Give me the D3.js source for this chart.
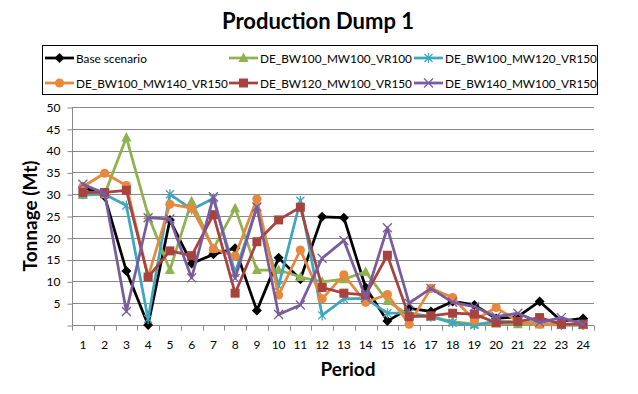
<!DOCTYPE html>
<html>
<head>
<meta charset="utf-8">
<script src="https://cdn.jsdelivr.net/npm/d3@7"></script>
<style>
  body { margin: 0; background: #fff; }
  text { font-family: Lato, "Open Sans", sans-serif; fill: #000; }
</style>
</head>
<body>
<div class="chart"></div>
<script>
// data (Mt per period)
var periods = ["1","2","3","4","5","6","7","8","9","10","11","12","13","14","15","16","17","18","19","20","21","22","23","24"];
var yTicks = [0, 5, 10, 15, 20, 25, 30, 35, 40, 45, 50];

var baseScenario = [31.7, 29.5, 12.4, 0, 24.1, 14.1, 16.2, 17.6, 3.3, 15.4, 10.5, 24.8, 24.6, 8.6, 0.9, 3.8, 3.1, 5.4, 4.6, 1.5, 1.9, 5.4, 0.9, 1.5];
var bw100mw100vr100 = [29.8, 30.0, 43.0, 25.2, 12.6, 28.4, 17.5, 26.8, 12.6, 12.6, 11.0, 9.9, 10.5, 12.2, 5.5, 2.2, 1.9, 0.8, 0.2, 0.4, 0.2, 0.1, 0, 0];
var bw100mw120vr150 = [30.0, 30.0, 27.4, 1.4, 30.0, 26.5, 29.0, 12.0, 27.0, 9.0, 28.5, 2.2, 6.0, 6.1, 2.7, 2.7, 1.9, 0.5, 0, 0.9, 0.6, 0.5, 0, 0];
var bw100mw140vr150 = [31.7, 34.8, 32.0, 11.1, 27.7, 26.8, 17.5, 15.8, 28.9, 6.9, 17.2, 6.0, 11.5, 5.2, 7.0, 0.2, 8.4, 6.3, 1.1, 4.0, 0.8, 0.2, 0.2, 0];
var bw120mw100vr150 = [30.4, 30.4, 30.9, 11.0, 17.0, 15.9, 25.3, 7.3, 19.1, 24.1, 27.0, 8.6, 7.3, 6.9, 16.0, 1.9, 2.1, 2.7, 2.5, 0.5, 0.8, 1.7, 0.2, 0.2];
var bw140mw100vr150 = [32.3, 30.2, 3.1, 24.6, 24.3, 10.8, 29.4, 10.7, 27.1, 2.4, 4.6, 15.3, 19.4, 6.3, 22.3, 5.0, 8.4, 5.2, 4.2, 1.9, 2.7, 0.6, 1.7, 0.2];

var seriesNames = ["Base scenario", "DE_BW100_MW100_VR100", "DE_BW100_MW120_VR150",
                   "DE_BW100_MW140_VR150", "DE_BW120_MW100_VR150", "DE_BW140_MW100_VR150"];
var seriesValues = [baseScenario, bw100mw100vr100, bw100mw120vr150, bw100mw140vr150, bw120mw100vr150, bw140mw100vr150];
var seriesColors = ["#000000", "#8FB24F", "#3FA6BE", "#E8883D", "#A8423F", "#7A5C9E"];
var seriesMarkers = ["diamond", "triangle", "star", "circle", "square", "x"];

var W = 638, H = 394;
var svg = d3.select('.chart')
  .append('svg')
  .attr('width', W)
  .attr('height', H);

var x = d3.scaleBand().domain(periods).range([72, 594]).padding(0);
var y = d3.scaleLinear().domain([0, 50]).range([325, 107]);

// marker paths, Excel style
function markerPath(type) {
  switch (type) {
    case "diamond": return "M0,-5L5,0L0,5L-5,0Z";
    case "triangle": return "M0,-5.5L5,4L-5,4Z";
    case "star": return "M-4,-4L4,4M-4,4L4,-4M0,-5L0,5";
    case "circle": return "M4.6,0A4.6,4.6 0 1,1 -4.6,0A4.6,4.6 0 1,1 4.6,0Z";
    case "square": return "M-4.5,-4.5H4.5V4.5H-4.5Z";
    case "x": return "M-4.5,-4.5L4.5,4.5M-4.5,4.5L4.5,-4.5";
  }
}
function isStroked(type) { return type == "star" || type == "x"; }

// gridlines
svg.append('g')
  .selectAll('line')
  .data(yTicks.filter(function(d) { return d > 0; }))
  .enter().append('line')
  .attr('x1', 72).attr('x2', 594)
  .attr('y1', function(d) { return Math.round(y(d)) + 0.5; })
  .attr('y2', function(d) { return Math.round(y(d)) + 0.5; })
  .style('stroke', '#888')
  .style('stroke-width', 1);

// y axis
var yAxis = svg.append('g')
  .attr('transform', 'translate(72.5,0.5)')
  .call(d3.axisLeft(y).tickValues(yTicks).tickSize(5).tickPadding(7)
    .tickFormat(function(d) { return d == 0 ? "" : d; }));
yAxis.selectAll('path, line').style('stroke', '#888');
yAxis.selectAll('text').style('font-size', '12px').style('font-family', 'Lato, sans-serif');
yAxis.select('.domain').attr('d', 'M0,' + y(50) + 'V' + y(0));

// x axis, ticks on category boundaries
var xAxis = svg.append('g')
  .attr('transform', 'translate(0,' + (y(0) + 0.5) + ')');
xAxis.append('line')
  .attr('x1', 72).attr('x2', 594)
  .style('stroke', '#888');
xAxis.selectAll('.tk')
  .data(periods.concat(["end"]))
  .enter().append('line')
  .attr('class', 'tk')
  .attr('x1', function(d, i) { return Math.round(72 + i * x.bandwidth()) + 0.5; })
  .attr('x2', function(d, i) { return Math.round(72 + i * x.bandwidth()) + 0.5; })
  .attr('y1', 0).attr('y2', 5)
  .style('stroke', '#888');
xAxis.selectAll('.lb')
  .data(periods)
  .enter().append('text')
  .attr('class', 'lb')
  .attr('x', function(d) { return x(d) + x.bandwidth() / 2; })
  .attr('y', 23)
  .attr('text-anchor', 'middle')
  .style('font-size', '12px')
  .text(function(d) { return d; });

// series lines and markers
var line = d3.line()
  .x(function(d, i) { return x(periods[i]) + x.bandwidth() / 2; })
  .y(function(d) { return y(d); });

seriesValues.forEach(function(vals, s) {
  var g = svg.append('g');
  g.append('path')
    .attr('d', line(vals))
    .style('fill', 'none')
    .style('stroke', seriesColors[s])
    .style('stroke-width', 2.75)
    .style('stroke-linejoin', 'round');
  g.selectAll('.m')
    .data(vals)
    .enter().append('path')
    .attr('class', 'm')
    .attr('transform', function(d, i) {
      return 'translate(' + (x(periods[i]) + x.bandwidth() / 2) + ',' + y(d) + ')';
    })
    .attr('d', markerPath(seriesMarkers[s]))
    .style('fill', isStroked(seriesMarkers[s]) ? 'none' : seriesColors[s])
    .style('stroke', seriesColors[s])
    .style('stroke-width', isStroked(seriesMarkers[s]) ? 1.3 : 0);
});

// title and axis titles
svg.append('text').text('Production Dump 1')
  .attr('x', 318).attr('y', 29)
  .attr('text-anchor', 'middle')
  .style('font-size', '22px').style('font-weight', 'bold');
svg.append('text').text('Period')
  .attr('x', 348).attr('y', 376)
  .attr('text-anchor', 'middle')
  .style('font-size', '19px').style('font-weight', 'bold');
svg.append('text').text('Tonnage (Mt)')
  .attr('transform', 'translate(37,216) rotate(-90)')
  .attr('text-anchor', 'middle')
  .style('font-size', '19px').style('font-weight', 'bold');

// legend
svg.append('rect')
  .attr('x', 42.5).attr('y', 45.5)
  .attr('width', 555).attr('height', 49)
  .style('fill', 'none')
  .style('stroke', '#000')
  .style('stroke-width', 1);

var legendCols = [45, 229, 414];
var legendRows = [58, 83];
seriesNames.forEach(function(name, s) {
  var lx = legendCols[s % 3];
  var ly = legendRows[s < 3 ? 0 : 1];
  var g = svg.append('g').attr('transform', 'translate(' + lx + ',' + ly + ')');
  g.append('line')
    .attr('x1', 0).attr('x2', 29)
    .style('stroke', seriesColors[s])
    .style('stroke-width', 2.75);
  g.append('path')
    .attr('transform', 'translate(14.5,0)')
    .attr('d', markerPath(seriesMarkers[s]))
    .style('fill', isStroked(seriesMarkers[s]) ? 'none' : seriesColors[s])
    .style('stroke', seriesColors[s])
    .style('stroke-width', isStroked(seriesMarkers[s]) ? 1.3 : 0);
  g.append('text').text(name)
    .attr('x', 31).attr('y', 4.5)
    .style('font-size', '11.8px');
});
</script>
</body>
</html>
